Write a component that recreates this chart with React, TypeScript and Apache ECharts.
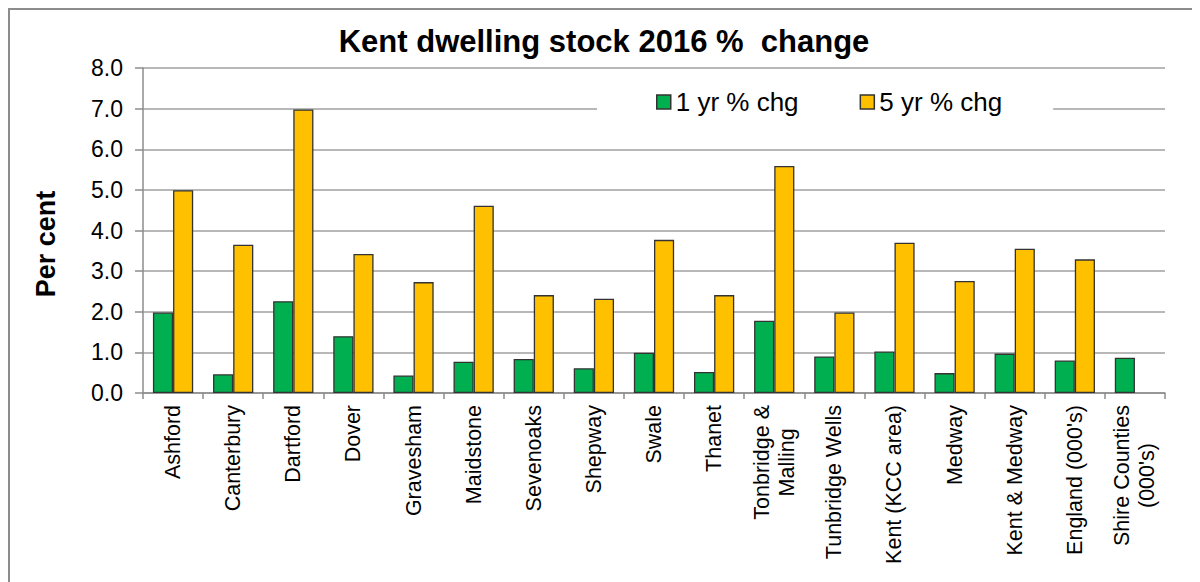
import React, { useEffect, useRef } from "react";
import * as echarts from "echarts";

const categories = [
  "Ashford", "Canterbury", "Dartford", "Dover", "Gravesham", "Maidstone",
  "Sevenoaks", "Shepway", "Swale", "Thanet", "Tonbridge &\nMalling",
  "Tunbridge Wells", "Kent (KCC area)", "Medway", "Kent & Medway",
  "England (000's)", "Shire Counties\n(000's)",
];
const oneYear = [1.98, 0.46, 2.26, 1.40, 0.43, 0.77, 0.84, 0.61, 0.99, 0.52, 1.78, 0.90, 1.02, 0.49, 0.97, 0.80, 0.87];
const fiveYear: (number | null)[] = [4.99, 3.65, 6.98, 3.42, 2.73, 4.61, 2.41, 2.32, 3.77, 2.41, 5.59, 1.98, 3.70, 2.76, 3.55, 3.29, null];
const seriesNames = ["1 yr % chg", "5 yr % chg"];
const titleText = "Kent dwelling stock 2016 %  change";
const yAxisName = "Per cent";

const FONT = "'Liberation Sans', Arial, sans-serif";

export default function App() {
  const ref = useRef<HTMLDivElement>(null);
  useEffect(() => {
    const chart = echarts.init(ref.current!, null, { renderer: "svg" });
    chart.setOption({
      animation: false,
      backgroundColor: "#fff",
      title: {
        text: titleText,
        left: "center",
        top: 13,
        textStyle: { fontFamily: FONT, fontSize: 31, fontWeight: "bold", color: "#000" },
      },
      legend: {
        left: 589,
        top: 73,
        padding: [8, 51, 8, 59],
        backgroundColor: "#fff",
        itemWidth: 14,
        itemHeight: 14,
        itemGap: 61,
        icon: "rect",
        textStyle: { fontFamily: FONT, fontSize: 26, color: "#000" },
        data: seriesNames.map((n) => ({ name: n, itemStyle: { borderColor: "#333", borderWidth: 1.5 } })),
      },
      grid: { left: 135, right: 35, top: 60, bottom: 189, containLabel: false },
      xAxis: {
        type: "category",
        data: categories,
        axisLine: { lineStyle: { color: "#8c8c8c", width: 1.5 } },
        axisTick: { show: true, length: 6, lineStyle: { color: "#8c8c8c", width: 1.5 } },
        axisLabel: {
          interval: 0,
          rotate: 90,
          margin: 12,
          fontFamily: FONT,
          fontSize: 21.5,
          lineHeight: 25,
          color: "#000",
          formatter: (v: string) => v.split("\n").map((l) => `{c|${l}}`).join("\n"),
          rich: {
            c: { align: "center", fontFamily: FONT, fontSize: 21.5, lineHeight: 25, color: "#000" },
          },
        },
      },
      yAxis: {
        type: "value",
        min: 0,
        max: 8,
        interval: 1,
        axisLine: { show: true, lineStyle: { color: "#8c8c8c", width: 1.5 } },
        axisTick: { show: true, length: 8, lineStyle: { color: "#8c8c8c", width: 1.5 } },
        axisLabel: {
          margin: 20,
          fontFamily: FONT,
          fontSize: 23,
          color: "#000",
          formatter: (v: number) => v.toFixed(1),
        },
        splitLine: { show: true, lineStyle: { color: "#a0a0a0", width: 1.5 } },
      },
      graphic: [
        {
          type: "rect",
          shape: { x: 1, y: 1, width: 1189, height: 620 },
          style: { fill: "none", stroke: "#8c8c8c", lineWidth: 2 },
          silent: true,
        },
        {
          type: "text",
          x: 38,
          y: 236,
          rotation: Math.PI / 2,
          style: {
            text: yAxisName,
            fontFamily: FONT,
            fontSize: 27,
            fontWeight: "bold",
            fill: "#000",
            textAlign: "center",
            textVerticalAlign: "middle",
          },
        },
      ],
      series: [
        {
          name: seriesNames[0],
          type: "bar",
          data: oneYear,
          barGap: "0%",
          barCategoryGap: "33%",
          itemStyle: { color: "#00b050", borderColor: "#333", borderWidth: 1.3 },
        },
        {
          name: seriesNames[1],
          type: "bar",
          data: fiveYear,
          barGap: "0%",
          barCategoryGap: "33%",
          itemStyle: { color: "#ffc000", borderColor: "#333", borderWidth: 1.3 },
        },
      ],
    });
    return () => chart.dispose();
  }, []);
  return <div ref={ref} style={{ width: 1192, height: 574 }} />;
}
